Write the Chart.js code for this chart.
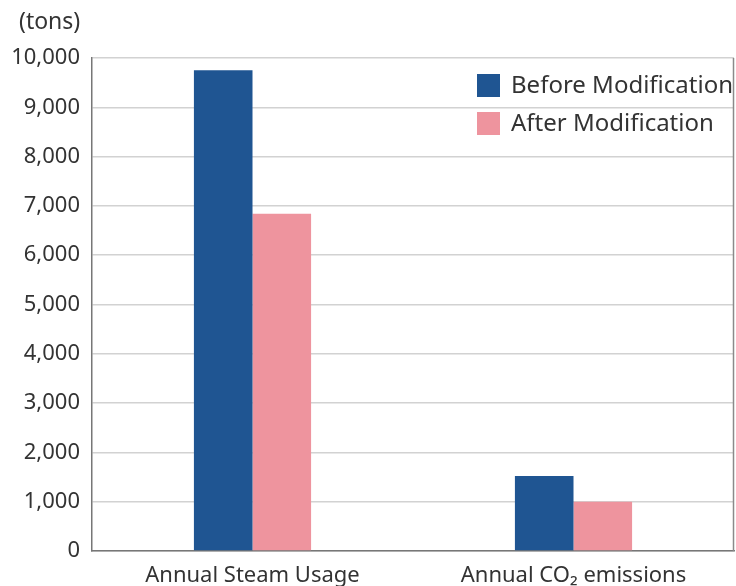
<!DOCTYPE html>
<html>
<head>
<meta charset="utf-8">
<script src="https://cdn.jsdelivr.net/npm/chart.js@4/dist/chart.umd.min.js"></script>
<style>
  html, body { margin: 0; padding: 0; background: #fff; }
  .chart-box { width: 736px; height: 586px; position: relative; }
</style>
</head>
<body>
<div class="chart-box"><canvas id="chart"></canvas></div>
<script>
const categories = ['Annual Steam Usage', 'Annual CO\u2082 emissions'];
const beforeValues = [9750, 1520];
const afterValues = [6840, 1000];
const seriesLabels = ['Before Modification', 'After Modification'];
const yTicks = [0, 1000, 2000, 3000, 4000, 5000, 6000, 7000, 8000, 9000, 10000];
const unitLabel = '(tons)';

const FONT = "'Noto Sans', sans-serif";

// legend sits inside the plot, top right; plus the unit label and right border
const overlay = {
  id: 'overlay',
  afterDraw(chart) {
    const { ctx, chartArea } = chart;
    ctx.save();
    // right border
    ctx.strokeStyle = '#8a8a8a';
    ctx.lineWidth = 1.5;
    ctx.beginPath();
    ctx.moveTo(chartArea.right - 0.5, chartArea.top);
    ctx.lineTo(chartArea.right - 0.5, chartArea.bottom);
    ctx.stroke();

    // unit label
    ctx.fillStyle = '#333';
    ctx.font = '23px ' + FONT;
    ctx.textBaseline = 'middle';
    ctx.textAlign = 'left';
    ctx.fillText(unitLabel, 19, 22);

    // legend
    ctx.font = '24px ' + FONT;
    chart.data.datasets.forEach((ds, i) => {
      const bx = chartArea.right - 257;
      const by = chartArea.top + 16 + i * 38;
      ctx.fillStyle = ds.backgroundColor;
      ctx.fillRect(bx, by, 23, 23);
      ctx.fillStyle = '#333';
      ctx.fillText(ds.label, bx + 34, by + 12);
    });
    ctx.restore();
  }
};

new Chart(document.getElementById('chart').getContext('2d'), {
  type: 'bar',
  data: {
    labels: categories,
    datasets: [
      { label: seriesLabels[0], data: beforeValues, backgroundColor: '#1f5592' },
      { label: seriesLabels[1], data: afterValues, backgroundColor: '#ee949e' }
    ]
  },
  options: {
    responsive: true,
    maintainAspectRatio: false,
    animation: false,
    layout: { padding: { top: 58, right: 2, left: 0, bottom: 0 } },
    datasets: { bar: { categoryPercentage: 0.365, barPercentage: 1 } },
    plugins: {
      legend: { display: false },
      tooltip: { enabled: false }
    },
    scales: {
      x: {
        grid: { display: false, drawTicks: false },
        border: { color: '#777', width: 1.5 },
        ticks: { color: '#333', padding: 12, font: { family: FONT, size: 22 } },
        afterFit: (s) => { s.height = 35; }
      },
      y: {
        min: 0,
        max: 10000,
        afterBuildTicks: (s) => { s.ticks = yTicks.map(v => ({ value: v })); },
        grid: { color: '#d2d2d2', lineWidth: 1.5, drawTicks: false },
        border: { color: '#777', width: 1.5 },
        ticks: {
          color: '#333',
          padding: 12,
          font: { family: FONT, size: 22 },
          callback: (v) => v.toLocaleString('en-US')
        },
        afterFit: (s) => { s.width = 92; }
      }
    }
  },
  plugins: [overlay]
});
</script>
</body>
</html>
